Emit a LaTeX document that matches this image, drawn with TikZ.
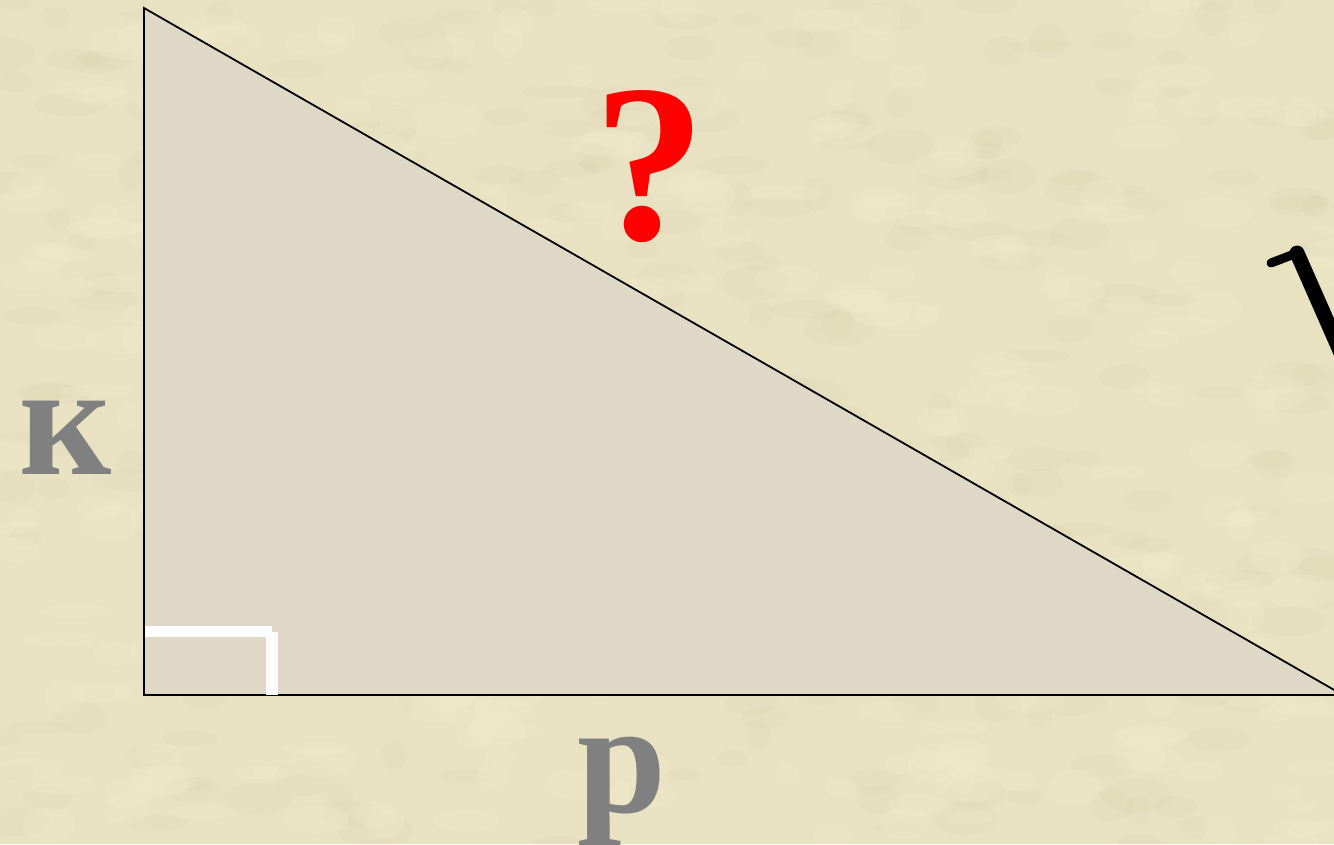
\documentclass[tikz,border=0pt]{standalone}
\usepackage{fontspec}
\newfontfamily\timesbold{Liberation Serif Bold}
\definecolor{paper}{RGB}{232,226,195}
\definecolor{paperdark}{RGB}{212,204,166}
\definecolor{paperlight}{RGB}{244,239,208}
\definecolor{trifill}{RGB}{223,216,198}
\definecolor{labelgray}{RGB}{128,128,128}
\begin{document}
\begin{tikzpicture}[x=1pt,y=-1pt,
  side/.style={draw=black,line width=1.8pt,line join=miter,fill=trifill},
  leglabel/.style={text=labelgray,font=\timesbold\fontsize{160}{160}\selectfont,inner sep=0pt,anchor=base},
  qlabel/.style={text=red,font=\timesbold\fontsize{225}{225}\selectfont,inner sep=0pt,anchor=base},
  marker/.style={fill=white,draw=none},
  speckdark/.style={fill=paperdark,opacity=0.13},
  specklight/.style={fill=paperlight,opacity=0.22},
  radical/.style={draw=black,line cap=round,line join=round}]
\fill[paper] (0,0) rectangle (1334,844);
\useasboundingbox (0,0) rectangle (1334,844);
\clip (0,0) rectangle (1334,844);
% mottled paper texture
\pgfmathsetseed{11}
\foreach \i in {1,...,320}{
  \pgfmathsetmacro{\px}{rnd*1334}
  \pgfmathsetmacro{\py}{rnd*844}
  \pgfmathsetmacro{\ra}{12+rnd*26}
  \pgfmathsetmacro{\rb}{6+rnd*12}
  \fill[speckdark] (\px,\py) ellipse ({\ra} and {\rb});
}
\foreach \i in {1,...,320}{
  \pgfmathsetmacro{\px}{rnd*1334}
  \pgfmathsetmacro{\py}{rnd*844}
  \pgfmathsetmacro{\ra}{12+rnd*26}
  \pgfmathsetmacro{\rb}{6+rnd*12}
  \fill[specklight] (\px,\py) ellipse ({\ra} and {\rb});
}
\coordinate (A) at (144,8);
\coordinate (C) at (144,695);
\coordinate (B) at (1343,695);
\filldraw[side] (A) -- (C) -- (B) -- cycle;
% right-angle mark
\fill[marker] (145,626) rectangle (272,637);
\fill[marker] (266,632) rectangle (278,695);
% labels
\node[leglabel] (k) at (66,474) {к};
\node[leglabel] (p) at (622,812) {р};
\node[qlabel] (q) at (650,239) {?};
% partial radical sign at right edge
\coordinate (r1) at (1271,263);
\coordinate (r2) at (1297,253);
\coordinate (r3) at (1345,362);
\draw[radical,line width=9pt] (r1) -- (r2);
\draw[radical,line width=15pt] (r2) -- (r3);
\end{tikzpicture}
\end{document}
